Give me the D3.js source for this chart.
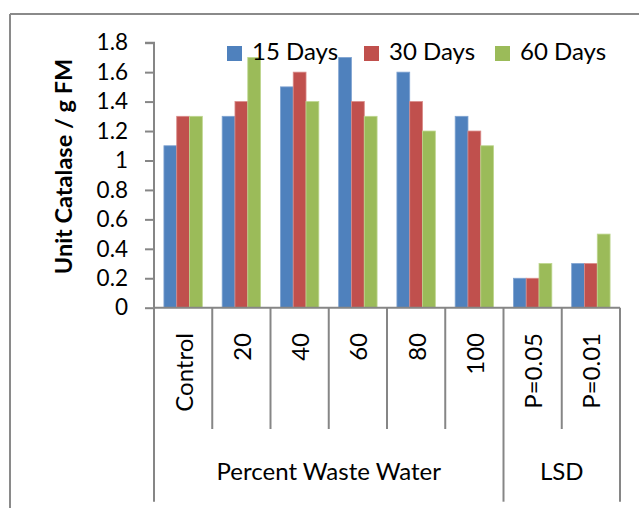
<!DOCTYPE html>
<html>
<head>
<meta charset="utf-8">
<script src="https://cdn.jsdelivr.net/npm/d3@7"></script>
<style>
  html, body { margin: 0; padding: 0; background: #fff; }
  svg { display: block; font-family: Lato, "Open Sans", sans-serif; }
</style>
</head>
<body>
<svg id="chart" width="639" height="508"></svg>
<script>
const categories = ["Control", "20", "40", "60", "80", "100", "P=0.05", "P=0.01"];
const groups = [
  { name: "Percent Waste Water", from: 0, to: 5 },
  { name: "LSD", from: 6, to: 7 }
];
const seriesNames = ["15 Days", "30 Days", "60 Days"];
const days15 = [1.1, 1.3, 1.5, 1.7, 1.6, 1.3, 0.2, 0.3];
const days30 = [1.3, 1.4, 1.6, 1.4, 1.4, 1.2, 0.2, 0.3];
const days60 = [1.3, 1.7, 1.4, 1.3, 1.2, 1.1, 0.3, 0.5];
const yTicks = [0, 0.2, 0.4, 0.6, 0.8, 1, 1.2, 1.4, 1.6, 1.8];
const colors = ["#4F81BD", "#C0504D", "#9BBB59"];
const strokeColors = ["#7FA3D1", "#D98A88", "#BDD68E"];

(function () {
const seriesValues = [days15, days30, days60];
const svg = d3.select("#chart");
const axisColor = "#868686";

// outer frame (top and left edges visible)
svg.append("line").attr("x1", 10).attr("x2", 639).attr("y1", 14).attr("y2", 14)
  .attr("stroke", "#8a8a8a").attr("stroke-width", 2);
svg.append("line").attr("x1", 10).attr("x2", 10).attr("y1", 14).attr("y2", 508)
  .attr("stroke", "#8a8a8a").attr("stroke-width", 2);

const pLeft = 154, pRight = 620, pTop = 42.7, pBottom = 307.7;

const x = d3.scaleBand().domain(categories).range([pLeft, pRight]).paddingInner(0).paddingOuter(0);
const y = d3.scaleLinear().domain([0, 1.8]).range([pBottom, pTop]);
const xInner = d3.scaleBand().domain(d3.range(seriesNames.length))
  .range([0, x.bandwidth()]).paddingInner(0).paddingOuter(0.775);

// bars
seriesValues.forEach((vals, si) => {
  svg.append("g").selectAll("rect").data(vals).join("rect")
    .attr("x", (d, i) => x(categories[i]) + xInner(si))
    .attr("width", xInner.bandwidth())
    .attr("y", d => y(d))
    .attr("height", d => y(0) - y(d))
    .attr("fill", colors[si])
    .attr("stroke", strokeColors[si])
    .attr("stroke-width", 0.8);
});

// y axis
const yAxis = d3.axisLeft(y).tickValues(yTicks).tickSize(9).tickPadding(17)
  .tickFormat(d => d3.format("~g")(d));
const gy = svg.append("g").attr("transform", `translate(${pLeft},0)`).call(yAxis);
gy.select(".domain").attr("stroke", axisColor).attr("stroke-width", 2)
  .attr("d", `M-9,${pTop}H0V${pBottom}`);
gy.selectAll(".tick line").attr("stroke", axisColor).attr("stroke-width", 2);
gy.selectAll(".tick text").attr("fill", "#000").style("font-size", "22.5px")
  .style("font-family", "Lato, 'Open Sans', sans-serif");

// x axis baseline
svg.append("line").attr("x1", pLeft).attr("x2", pRight).attr("y1", pBottom).attr("y2", pBottom)
  .attr("stroke", axisColor).attr("stroke-width", 2);

// category dividers
const catEdges = categories.map(c => x(c)).concat([pRight]);
catEdges.forEach((ex, i) => {
  const isGroupEdge = groups.some(g => x(categories[g.from]) === ex) || i === categories.length;
  svg.append("line").attr("x1", ex).attr("x2", ex).attr("y1", pBottom)
    .attr("y2", isGroupEdge ? 501.7 : 429)
    .attr("stroke", axisColor).attr("stroke-width", 2);
});

// category labels (rotated)
svg.append("g").selectAll("text").data(categories).join("text")
  .attr("transform", d => `translate(${x(d) + x.bandwidth() / 2 + 9.5},333) rotate(-90)`)
  .attr("text-anchor", "end")
  .style("font-size", "24px")
  .attr("fill", "#000")
  .text(d => d);

// group labels
svg.append("g").selectAll("text").data(groups).join("text")
  .attr("x", g => (x(categories[g.from]) + x(categories[g.to]) + x.bandwidth()) / 2)
  .attr("y", 480)
  .attr("text-anchor", "middle")
  .style("font-size", "24px")
  .attr("fill", "#000")
  .text(g => g.name);

// y axis title
svg.append("text")
  .attr("transform", `translate(72,166.5) rotate(-90)`)
  .attr("text-anchor", "middle")
  .style("font-size", "23.5px")
  .style("font-weight", "bold")
  .attr("fill", "#000")
  .text("Unit Catalase / g FM");

// legend
const legendX = [227, 364, 495];
const lg = svg.append("g");
seriesNames.forEach((name, i) => {
  lg.append("rect").attr("x", legendX[i]).attr("y", 46).attr("width", 15).attr("height", 15)
    .attr("fill", colors[i]);
  lg.append("text").attr("x", legendX[i] + 25).attr("y", 60)
    .style("font-size", "24px").attr("fill", "#000").text(name);
});
})();
</script>
</body>
</html>
